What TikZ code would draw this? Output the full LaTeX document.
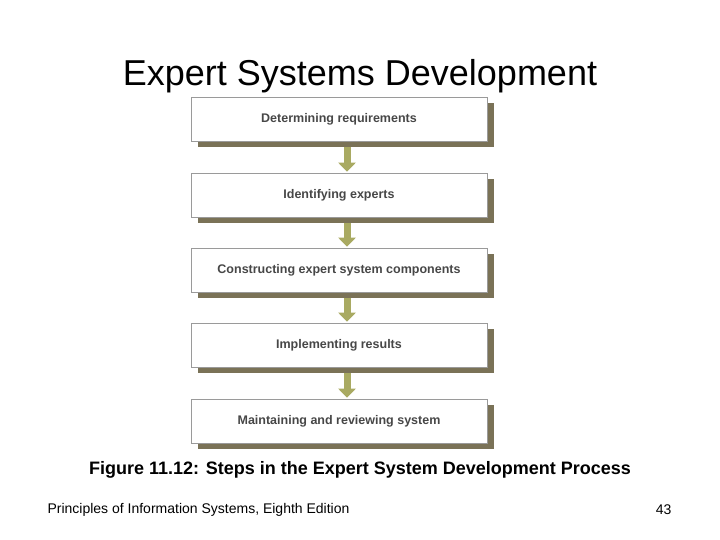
\documentclass[tikz,border=0pt]{standalone}
\usepackage{fontspec}
\setmainfont{Liberation Sans}
\usetikzlibrary{arrows.meta,calc}
\definecolor{shad}{HTML}{7A7257}
\definecolor{arr}{HTML}{A9AA62}
\definecolor{bord}{HTML}{9A9A9A}
\begin{document}
\begin{tikzpicture}[x=1pt,y=-1pt,
 stepbox/.style={draw=bord,line width=0.6pt,fill=white,minimum width=296pt,minimum height=44pt,inner sep=0pt,font=\fontsize{12.5}{14}\selectfont\bfseries\color{black!72}},
 flow/.style={arr,line width=7pt,-{Triangle[width=17pt,length=9pt]}}]
\useasboundingbox (0,0) rectangle (720,540);
\node[font=\fontsize{36}{40}\selectfont] (t) at (360,76) {Expert Systems Development};
\foreach \n/\y in {1/119,2/195,3/270,4/345,5/421}{
  \fill[shad] (198,\y-22+6) rectangle (494,\y+22+6);
}
\node[stepbox] (b1) at (339,119) {Determining requirements};
\node[stepbox] (b2) at (339,195) {Identifying experts};
\node[stepbox] (b3) at (339,270) {Constructing expert system components};
\node[stepbox] (b4) at (339,345) {Implementing results};
\node[stepbox] (b5) at (339,421) {Maintaining and reviewing system};
\foreach \a/\b in {b1/b2,b2/b3,b3/b4,b4/b5}{
  \draw[flow] ($(\a.south)+(8,6)$) -- ($(\b.north)+(8,-1)$);
}
\node[font=\fontsize{18}{21}\selectfont\bfseries] (cap) at (360,470) {Figure 11.12: Steps in the Expert System Development Process};
\node[font=\fontsize{14}{17}\selectfont,anchor=west] (f) at (44,510) {Principles of Information Systems, Eighth Edition};
\node[font=\fontsize{14}{17}\selectfont,anchor=east] (p) at (675,510) {43};
\end{tikzpicture}
\end{document}
